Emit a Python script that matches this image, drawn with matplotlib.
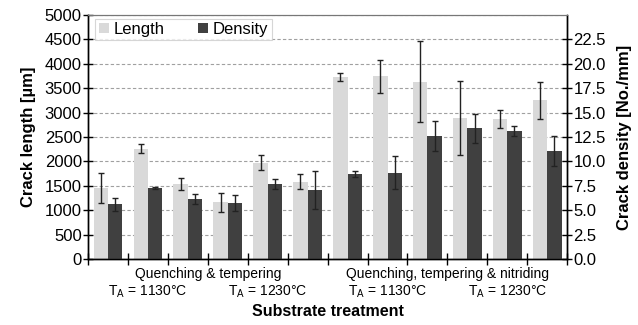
import matplotlib
matplotlib.use('Agg')
import matplotlib.pyplot as plt
import numpy as np

plt.rcParams['font.family'] = ['Liberation Sans', 'DejaVu Sans']

# crack length [µm] (left axis) and crack density [No./mm] (right axis)
length = [1450, 2260, 1530, 1160, 1975, 1580, 3730, 3740, 3635, 2890, 2870, 3250]
length_err = [305, 90, 120, 190, 150, 155, 90, 335, 825, 760, 190, 380]
density = [5.6, 7.3, 6.15, 5.75, 7.7, 7.1, 8.7, 8.85, 12.6, 13.4, 13.15, 11.05]
density_err = [0.65, 0.1, 0.5, 0.85, 0.48, 1.95, 0.3, 1.7, 1.55, 1.5, 0.5, 1.5]

process_labels = ['Quenching & tempering', 'Quenching, tempering & nitriding']
temp_labels = ['T$_\\mathregular{A}$ = 1130°C', 'T$_\\mathregular{A}$ = 1230°C'] * 2

x = np.arange(len(length))
w = 0.36

fig = plt.figure(figsize=(6.38, 3.25), dpi=100)
ax = fig.add_axes([0.138, 0.203, 0.751, 0.751])
ax2 = ax.twinx()

err_kw = dict(ecolor='#222222', elinewidth=1, capsize=2.5, capthick=1)
ax.bar(x - w / 2, length, w, yerr=length_err, color='#d9d9d9', label='Length',
       error_kw=err_kw, zorder=2)
ax2.bar(x + w / 2, density, w, yerr=density_err, color='#404040', label='Density',
        error_kw=err_kw, zorder=2)

ax.set_xlim(-0.5, 11.5)
ax.set_ylim(0, 5000)
ax.set_yticks(np.arange(0, 5001, 500))
ax2.set_ylim(0, 25)
ax2.set_yticks(np.arange(0, 22.6, 2.5))
ax2.set_yticklabels([f'{v:.1f}' for v in np.arange(0, 22.6, 2.5)])

ax.set_xticks(np.arange(-0.5, 12, 1))
ax.set_xticklabels([])
ax.tick_params(axis='x', direction='inout', length=8, width=1)
ax.tick_params(axis='y', direction='inout', length=7, width=1, labelsize=12, pad=1)
ax2.tick_params(axis='y', direction='inout', length=7, width=1, labelsize=12, pad=1)

ax.set_axisbelow(True)
ax.yaxis.grid(True, linestyle=(0, (3, 2)), color='#a0a0a0', linewidth=0.8)

for a in (ax, ax2):
    a.spines['top'].set_color('#777777')
    for s in ('left', 'right', 'bottom'):
        a.spines[s].set_color('black')
        a.spines[s].set_linewidth(1)

ax.set_ylabel('Crack length [µm]', fontsize=12, fontweight='bold', labelpad=6)
ax2.set_ylabel('Crack density [No./mm]', fontsize=12, fontweight='bold', labelpad=8)

# group labels under the axis
trans = ax.get_xaxis_transform()
for i, lab in enumerate(process_labels):
    ax.text(2.5 + 6 * i, -0.06, lab, transform=trans, ha='center', va='center', fontsize=10)
for i, lab in enumerate(temp_labels):
    ax.text(1 + 3 * i, -0.135, lab, transform=trans, ha='center', va='center', fontsize=10)
ax.text(5.5, -0.215, 'Substrate treatment', transform=trans, ha='center', va='center',
        fontsize=11.5, fontweight='bold')

h1, l1 = ax.get_legend_handles_labels()
h2, l2 = ax2.get_legend_handles_labels()
leg = ax2.legend(h1 + h2, l1 + l2, loc='upper left', bbox_to_anchor=(0.015, 0.985), ncol=2,
                 fontsize=12, frameon=True, fancybox=False, edgecolor='#cccccc',
                 handlelength=0.6, handleheight=0.6, handletextpad=0.3,
                 columnspacing=2.0, borderpad=0.2, borderaxespad=0)
leg.get_frame().set_linewidth(0.8)

fig.savefig('out.png', dpi=100)
